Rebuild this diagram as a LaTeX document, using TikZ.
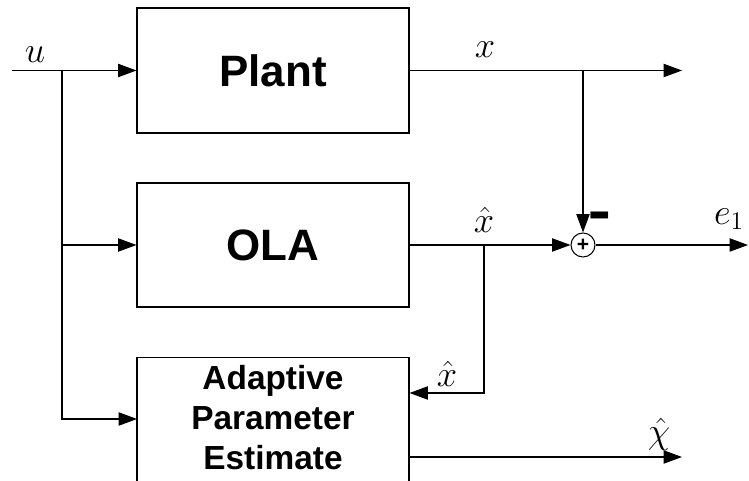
\documentclass[tikz,border=0pt]{standalone}
\usepackage{amsmath,amssymb}
\usepackage{fontspec}
\setmainfont{Liberation Sans}
\usepackage{tikz}
\usetikzlibrary{arrows.meta,positioning,calc}

\begin{document}
\begin{tikzpicture}[scale=1.0,
    block/.style={draw,line width=0.6pt,minimum width=5.44cm,minimum height=2.5cm,font=\fontsize{25}{30}\selectfont\bfseries},
    sig/.style={-{Triangle[length=10.5pt,width=7.6pt]},line width=0.6pt},
    lbl/.style={font=\fontsize{20}{24}\selectfont}]
    \clip (0,0) rectangle (14.98,9.62);
    % blocks
    \node[block] (plant) at (5.46,8.21) {Plant};
    \node[block,minimum height=2.48cm] (ola) at (5.46,4.72) {OLA};
    \node[block,minimum height=3cm,anchor=north] (ape) at (5.46,2.48) {};
    \node[font=\fontsize{19}{22.8}\selectfont\bfseries,align=center,inner sep=0pt,below=0.16cm of ape.north] (apetext) {Adaptive\\Parameter\\Estimate};
    \node[draw,circle,line width=0.6pt,minimum size=0.48cm,inner sep=0pt,font=\fontsize{12}{12}\selectfont\bfseries] (sum) at (11.66,4.72) {+};
    \node[font=\fontsize{20}{20}\selectfont\bfseries,inner sep=0pt] (minus) at (12.0,5.14) {\scalebox{1}[1.8]{−}};
    % input u
    \coordinate (uin) at (0.24,8.21);
    \coordinate (usplit) at (1.24,8.21);
    \coordinate (apein) at (2.74,1.24);
    \draw[sig] (uin) -- (plant.west);
    \draw[sig] (usplit) |- (apein);
    \draw[sig] (usplit |- ola.west) -- (ola.west);
    \node[lbl] (ulbl) at (0.70,8.52) {$u$};
    % plant output
    \coordinate (xout) at (13.64,8.21);
    \coordinate (xsplit) at (11.66,8.21);
    \draw[sig] (plant.east) -- (xout);
    \draw[sig] (xsplit) -- (sum.north);
    \node[lbl] (xlbl) at (9.70,8.62) {$x$};
    % estimator output
    \coordinate (xhsplit) at (9.68,4.72);
    \coordinate (fb) at (9.68,1.76);
    \draw[sig] (ola.east) -- (sum.west);
    \draw[sig] (xhsplit) -- (fb) -- (fb -| ape.east);
    \node[lbl] (xhlbl) at (9.68,5.22) {$\hat{x}$};
    \node[lbl] (fblbl) at (8.94,2.14) {$\hat{x}$};
    % error and parameter outputs
    \coordinate (eout) at (14.96,4.72);
    \draw[sig] (sum.east) -- (eout);
    \node[lbl] (elbl) at (14.58,5.24) {$e_1$};
    \coordinate (chiout) at (13.64,0.48);
    \draw[sig] (ape.east |- chiout) -- (chiout);
    \node[lbl] (chilbl) at (13.18,0.94) {$\hat{\chi}$};
\end{tikzpicture}
\end{document}
